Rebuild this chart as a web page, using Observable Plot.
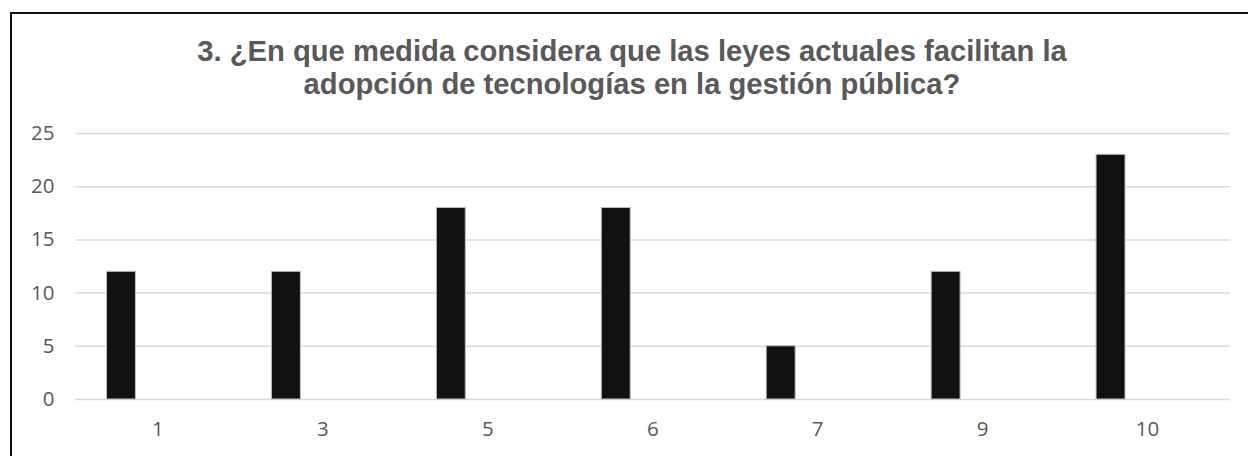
<!DOCTYPE html>
<html>
<head>
<meta charset="utf-8">
<script src="https://cdn.jsdelivr.net/npm/d3@7"></script>
<script src="https://cdn.jsdelivr.net/npm/@observablehq/plot@0.6"></script>
<style>
  html, body { margin: 0; padding: 0; background: #fff; overflow: hidden; }
  #wrap { position: relative; width: 1248px; height: 456px; }
  #frame { position: absolute; left: 10px; top: 12px; width: 1300px; height: 500px;
           border-top: 2px solid #111; border-left: 2px solid #111; box-sizing: border-box; }
  #title { position: absolute; left: 182px; width: 900px; top: 35px; text-align: center;
           font-family: "Liberation Sans", Arial, sans-serif; font-weight: bold;
           font-size: 29.2px; line-height: 33px; color: #595959; white-space: nowrap; }
  #chart { position: absolute; left: 0; top: 0; }
</style>
</head>
<body>
<div id="wrap">
  <div id="frame"></div>
  <div id="chart"></div>
  <div id="title">3. ¿En que medida considera que las leyes actuales facilitan la<br>adopción de tecnologías en la gestión pública?</div>
</div>
<script>
const categories = ["1", "3", "5", "6", "7", "9", "10"];
const values = [12, 12, 18, 18, 5, 12, 23];
const yTicks = [0, 5, 10, 15, 20, 25];

const data = categories.map((c, i) => ({category: c, value: values[i]}));

const chart = Plot.plot({
  width: 1248,
  height: 456,
  marginTop: 133,
  marginBottom: 57,
  marginLeft: 75,
  marginRight: 18.5,
  style: {fontFamily: "'Open Sans', sans-serif", fontSize: "20.5px", color: "#595959", background: "transparent", overflow: "visible"},
  x: {domain: categories, padding: 0, round: false, label: null, tickSize: 0, tickPadding: 22},
  y: {domain: [0, 25], ticks: yTicks, label: null, tickSize: 0, tickPadding: 21},
  marks: [
    Plot.gridY(yTicks, {stroke: "#d9d9d9", strokeOpacity: 1, strokeWidth: 1.5}),
    Plot.barY(data, {x: "category", y: "value", fill: "#111", stroke: "#bdbdbd", strokeWidth: 1,
                     insetLeft: 31.5, insetRight: 104.5})
  ]
});
document.getElementById("chart").appendChild(chart);
</script>
</body>
</html>
